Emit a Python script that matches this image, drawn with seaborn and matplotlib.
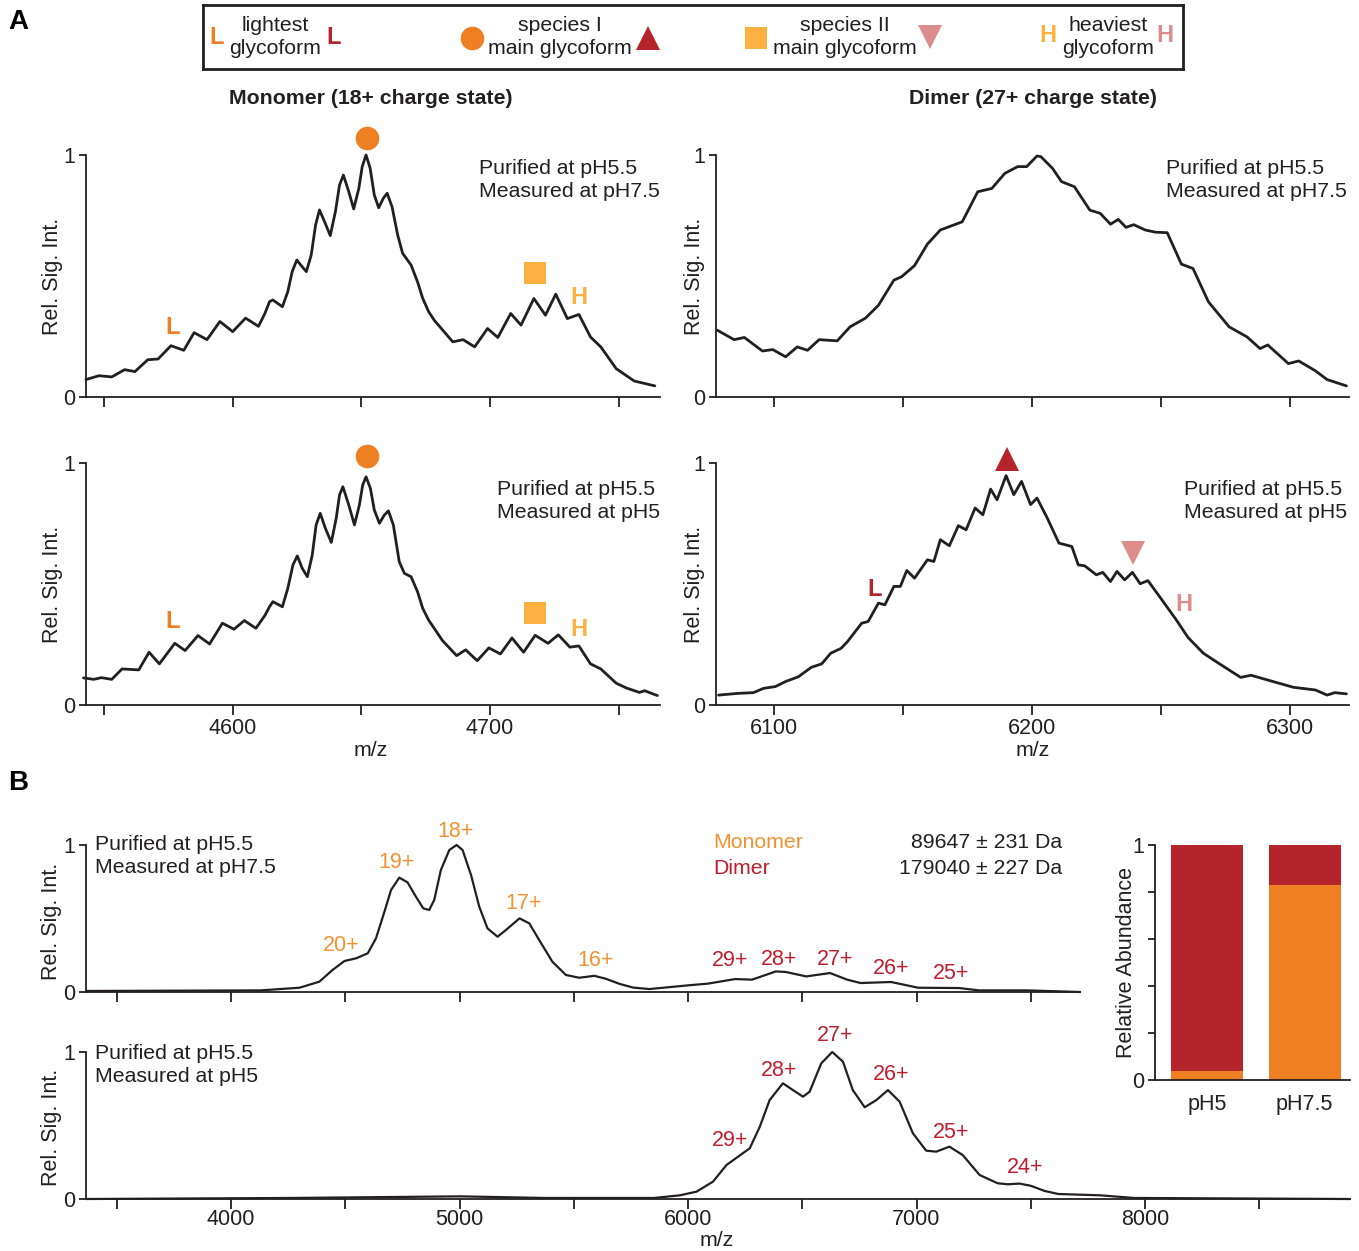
import numpy as np
import pandas as pd
import matplotlib
matplotlib.use("Agg")
import matplotlib.pyplot as plt
import seaborn as sns

sns.set_theme(style="ticks")
plt.rcParams['font.family'] = ['Liberation Sans', 'DejaVu Sans']

# ---------------- data ----------------
mono75_mz = [4543, 4548, 4553, 4558, 4562, 4567, 4571, 4576, 4581, 4585, 4590, 4595, 4600, 4605, 4610,
             4612.5, 4614.3, 4615.6, 4619.3, 4621.4, 4623.1, 4624.9, 4626.6, 4628.6, 4630.5, 4632.2,
             4633.7, 4635.7, 4637.9, 4639.9, 4641.5, 4643.0, 4645.1, 4647.0, 4649.0, 4650.3, 4651.8,
             4653.4, 4655.0, 4656.7, 4658.5, 4660.0, 4661.9, 4664.1, 4666.0, 4669.3, 4671.8, 4673.8,
             4676.1, 4678.3, 4685.5, 4689.5, 4694, 4699, 4703, 4708, 4712, 4717, 4721.5, 4725.5, 4730,
             4734.5, 4739, 4743, 4749, 4756, 4764]
mono75_int = [0.072, 0.088, 0.083, 0.113, 0.105, 0.154, 0.157, 0.212, 0.193, 0.266, 0.237, 0.312, 0.270,
              0.326, 0.292, 0.345, 0.394, 0.401, 0.373, 0.435, 0.518, 0.566, 0.543, 0.518, 0.587, 0.711,
              0.773, 0.724, 0.667, 0.766, 0.876, 0.917, 0.848, 0.777, 0.862, 0.952, 1.0, 0.945, 0.835,
              0.782, 0.821, 0.842, 0.786, 0.669, 0.594, 0.545, 0.476, 0.408, 0.353, 0.317, 0.228, 0.237,
              0.207, 0.283, 0.246, 0.345, 0.297, 0.407, 0.338, 0.425, 0.324, 0.341, 0.248, 0.207, 0.117,
              0.066, 0.046]

mono5_mz = [4542, 4546, 4549, 4553, 4557, 4563.5, 4567.5, 4571.5, 4577.5, 4581.5, 4586.5, 4591, 4596,
            4600.5, 4604.5, 4609, 4612.5, 4614.3, 4615.6, 4619.3, 4621.4, 4623.4, 4625.1, 4627.0, 4629.0,
            4630.9, 4632.4, 4634.0, 4636.0, 4638.3, 4640.2, 4641.5, 4642.8, 4645.1, 4647.3, 4649.2,
            4650.5, 4651.8, 4653.5, 4655.0, 4657.0, 4658.9, 4660.5, 4662.4, 4664.7, 4666.7, 4669.3,
            4671.8, 4673.8, 4676.1, 4681.5, 4687, 4690.5, 4695, 4699.5, 4704, 4708.5, 4713, 4717.5,
            4722.5, 4726.5, 4731, 4734.5, 4739, 4743, 4749, 4753, 4758, 4760, 4765]
mono5_int = [0.112, 0.106, 0.113, 0.106, 0.149, 0.145, 0.218, 0.170, 0.255, 0.225, 0.287, 0.252, 0.338,
             0.313, 0.349, 0.317, 0.370, 0.406, 0.427, 0.406, 0.482, 0.579, 0.616, 0.565, 0.530, 0.620,
             0.744, 0.792, 0.730, 0.672, 0.771, 0.868, 0.902, 0.826, 0.744, 0.826, 0.909, 0.943, 0.895,
             0.806, 0.751, 0.785, 0.802, 0.744, 0.592, 0.544, 0.530, 0.468, 0.400, 0.351, 0.266, 0.204,
             0.228, 0.183, 0.236, 0.211, 0.277, 0.218, 0.288, 0.255, 0.290, 0.239, 0.244, 0.170, 0.149,
             0.090, 0.070, 0.052, 0.059, 0.039]

dimer75_mz = [6078, 6084.5, 6088.5, 6095.5, 6099.5, 6104.5, 6109, 6113, 6117.5, 6124.5, 6129.5, 6135.5,
              6140.5, 6146.5, 6149.5, 6154.5, 6159.5, 6164.5, 6173, 6179, 6184.5, 6189.5, 6194.5, 6198,
              6202, 6203.5, 6208, 6211.5, 6216.5, 6222.5, 6226.5, 6230.5, 6233.5, 6236.5, 6239.5, 6244,
              6248, 6252.5, 6258, 6262.5, 6268.5, 6276.5, 6283.5, 6288.5, 6291.5, 6299.5, 6303.5, 6310,
              6314.5, 6322]
dimer75_int = [0.276, 0.237, 0.246, 0.190, 0.196, 0.166, 0.207, 0.193, 0.237, 0.232, 0.290, 0.326, 0.379,
               0.483, 0.497, 0.543, 0.632, 0.690, 0.724, 0.848, 0.862, 0.924, 0.952, 0.952, 0.996, 0.993,
               0.945, 0.890, 0.869, 0.772, 0.759, 0.714, 0.734, 0.701, 0.712, 0.690, 0.681, 0.679, 0.549,
               0.531, 0.393, 0.290, 0.248, 0.200, 0.215, 0.138, 0.149, 0.108, 0.072, 0.046]

dimer5_mz = [6078.5, 6086, 6092, 6096, 6100.5, 6104.5, 6109.5, 6114.5, 6118.5, 6122, 6126, 6128.5, 6134,
             6136.5, 6140.5, 6143, 6146.5, 6149, 6151.5, 6154.5, 6159.5, 6162, 6164.5, 6168, 6171.5,
             6174.5, 6178, 6181, 6184, 6186.5, 6190, 6193, 6196, 6199.5, 6202, 6206, 6210.5, 6215.5,
             6218, 6220.5, 6225, 6227.5, 6230.5, 6233, 6236, 6239, 6242, 6245, 6250, 6256, 6260.5,
             6266.5, 6272.5, 6281, 6285, 6293.5, 6301.5, 6310, 6314.5, 6317.5, 6322]
dimer5_int = [0.041, 0.048, 0.051, 0.069, 0.076, 0.097, 0.117, 0.156, 0.170, 0.214, 0.234, 0.262, 0.338,
              0.345, 0.421, 0.414, 0.490, 0.490, 0.556, 0.524, 0.600, 0.593, 0.683, 0.658, 0.741, 0.724,
              0.814, 0.786, 0.892, 0.848, 0.948, 0.869, 0.924, 0.828, 0.855, 0.772, 0.669, 0.655, 0.579,
              0.575, 0.538, 0.548, 0.510, 0.552, 0.517, 0.548, 0.501, 0.514, 0.441, 0.352, 0.280, 0.214,
              0.172, 0.114, 0.123, 0.097, 0.073, 0.062, 0.041, 0.051, 0.046]

full75_mz = [3365, 4129, 4299, 4386, 4444, 4496, 4547, 4598, 4634, 4671, 4700, 4736, 4772, 4809, 4841,
             4867, 4889, 4918, 4955, 4987, 5013, 5050, 5086, 5122, 5166, 5203, 5262, 5305, 5348, 5406,
             5465, 5523, 5590, 5640, 5700, 5760, 5830, 5998, 6087, 6206, 6280, 6384, 6428, 6517, 6621,
             6696, 6755, 6888, 7007, 7185, 7274, 7481, 7715]
full75_int = [0.007, 0.011, 0.029, 0.070, 0.150, 0.211, 0.229, 0.263, 0.365, 0.546, 0.694, 0.778, 0.746,
              0.648, 0.569, 0.558, 0.626, 0.830, 0.966, 1.0, 0.966, 0.796, 0.580, 0.433, 0.376, 0.422,
              0.501, 0.467, 0.354, 0.206, 0.116, 0.097, 0.110, 0.090, 0.055, 0.030, 0.020, 0.045, 0.057,
              0.088, 0.084, 0.140, 0.136, 0.106, 0.129, 0.084, 0.061, 0.068, 0.029, 0.027, 0.011, 0.011,
              0.0]

full5_mz = [3365, 4265, 5003, 5371, 5851, 5964, 6037, 6109, 6168, 6219, 6270, 6314, 6357, 6415, 6459,
            6503, 6532, 6583, 6631, 6678, 6721, 6773, 6824, 6875, 6926, 6984, 7042, 7086, 7144, 7202,
            7276, 7355, 7400, 7450, 7500, 7560, 7620, 7805, 7952, 8897]
full5_int = [0.0, 0.007, 0.018, 0.007, 0.007, 0.025, 0.050, 0.118, 0.231, 0.288, 0.345, 0.492, 0.673,
             0.787, 0.741, 0.696, 0.730, 0.923, 1.0, 0.934, 0.741, 0.624, 0.673, 0.741, 0.662, 0.447,
             0.329, 0.322, 0.356, 0.299, 0.163, 0.107, 0.100, 0.105, 0.090, 0.055, 0.034, 0.025, 0.007,
             0.0]

mono_charges = ["20+", "19+", "18+", "17+", "16+"]
mono_charge_mz = [4481, 4726, 4980, 5282, 5597]
mono_charge_y = [0.313, 0.878, 1.095, 0.605, 0.211]
dim75_charges = ["29+", "28+", "27+", "26+", "25+"]
dim75_charge_mz = [6184, 6398, 6643, 6888, 7151]
dim75_charge_y = [0.211, 0.224, 0.224, 0.163, 0.129]
dim5_charges = ["29+", "28+", "27+", "26+", "25+", "24+"]
dim5_charge_mz = [6184, 6398, 6643, 6888, 7151, 7475]
dim5_charge_y = [0.395, 0.871, 1.109, 0.850, 0.449, 0.211]

conditions = ["pH5", "pH7.5"]
monomer_frac = [0.04, 0.83]
dimer_frac = [0.96, 0.17]

# ---------------- style ----------------
ORANGE = "#EE7F22"
LORANGE = "#FBB040"
RED = "#B5242A"
PINK = "#DC8C8A"
MONO_TXT = "#F39130"
DIM_TXT = "#BE1E2D"
INK = "#231F20"
FS = 15.3
TFS = 15.5

W, H = 1359, 1251
fig = plt.figure(figsize=(W / 100, H / 100), dpi=100)


def px_ax(l, r, t, b):
    return fig.add_axes([l / W, 1 - b / H, (r - l) / W, (b - t) / H])


def ftext(x, y, s, **kw):
    kw.setdefault("va", "center")
    kw.setdefault("color", INK)
    fig.text(x / W, 1 - y / H, s, **kw)


def style(ax, xlim, xticks, xlabels, ylab_x, ylab_y=0.5, xpad=3):
    ax.set_xlim(xlim)
    ax.set_ylim(0, 1)
    ax.set_xticks(xticks)
    ax.set_xticklabels(xlabels)
    ax.set_yticks([0, 1])
    ax.set_yticklabels(["0", "1"])
    for s in ["top", "right"]:
        ax.spines[s].set_visible(False)
    for s in ["left", "bottom"]:
        ax.spines[s].set_linewidth(1.3)
        ax.spines[s].set_color(INK)
    ax.tick_params(axis="x", length=7, width=1.3, labelsize=TFS, pad=xpad, colors=INK)
    ax.tick_params(axis="y", length=5, width=1.3, labelsize=TFS, pad=3, colors=INK)
    ax.set_facecolor("none")
    ax.set_xlabel("")
    ax.set_ylabel("Rel. Sig. Int.", fontsize=TFS, color=INK)
    ax.yaxis.set_label_coords(ylab_x, ylab_y)


def trace(ax, mz, inten, lw=2.0):
    df = pd.DataFrame({"mz": mz, "int": inten})
    sns.lineplot(data=df, x="mz", y="int", ax=ax, color=INK, lw=lw,
                 estimator=None, sort=False, legend=False)
    for ln in ax.lines:
        ln.set_clip_on(False)
        ln.set_solid_joinstyle("round")
        ln.set_solid_capstyle("round")


# ---------------- panel A ----------------
ax_tl = px_ax(86, 660, 155, 397)
ax_tr = px_ax(716, 1349, 155, 397)
ax_bl = px_ax(86, 660, 463, 705)
ax_br = px_ax(716, 1349, 463, 705)

trace(ax_tl, mono75_mz, mono75_int)
trace(ax_bl, mono5_mz, mono5_int)
trace(ax_tr, dimer75_mz, dimer75_int)
trace(ax_br, dimer5_mz, dimer5_int)

mono_ticks = [4550, 4600, 4650, 4700, 4750]
dim_ticks = [6100, 6150, 6200, 6250, 6300]
style(ax_tl, (4543, 4766), mono_ticks, [""] * 5, -0.040)
style(ax_bl, (4543, 4766), mono_ticks, ["", "4600", "", "4700", ""], -0.040, xpad=2)
style(ax_tr, (6077.5, 6323), dim_ticks, [""] * 5, -0.017)
style(ax_br, (6077.5, 6323), dim_ticks, ["6100", "", "6200", "", "6300"], -0.017, xpad=2)

# markers
mk = dict(ls="none", clip_on=False, zorder=10, mew=0)
ax_tl.plot([4652], [1.07], marker="o", ms=17, color=ORANGE, **mk)
ax_tl.plot([4717.5], [0.512], marker="s", ms=16, color=LORANGE, **mk)
ax_bl.plot([4652], [1.029], marker="o", ms=17, color=ORANGE, **mk)
ax_bl.plot([4717.5], [0.380], marker="s", ms=16, color=LORANGE, **mk)
ax_br.plot([6190.3], [1.017], marker="^", ms=17, color=RED, **mk)
ax_br.plot([6239.2], [0.628], marker="v", ms=17, color=PINK, **mk)

lk = dict(ha="center", va="center", fontsize=17, fontweight="bold")
ax_tl.text(4576.7, 0.289, "L", color=ORANGE, **lk)
ax_tl.text(4734.5, 0.413, "H", color=LORANGE, **lk)
ax_bl.text(4576.7, 0.343, "L", color=ORANGE, **lk)
ax_bl.text(4734.5, 0.314, "H", color=LORANGE, **lk)
ax_br.text(6139, 0.479, "L", color=RED, **lk)
ax_br.text(6259, 0.417, "H", color=PINK, **lk)

pt = dict(ha="left", fontsize=FS, linespacing=1.3)
ftext(479, 180, "Purified at pH5.5\nMeasured at pH7.5", **pt)
ftext(497, 501, "Purified at pH5.5\nMeasured at pH5", **pt)
ftext(1166, 180, "Purified at pH5.5\nMeasured at pH7.5", **pt)
ftext(1184, 501, "Purified at pH5.5\nMeasured at pH5", **pt)

ftext(371, 98, "Monomer (18+ charge state)", ha="center", fontsize=FS, fontweight="bold")
ftext(1033, 98, "Dimer (27+ charge state)", ha="center", fontsize=FS, fontweight="bold")
ftext(371, 750, "m/z", ha="center", fontsize=FS)
ftext(1033, 750, "m/z", ha="center", fontsize=FS)

ftext(18, 22, "A", ha="center", fontsize=20, fontweight="bold", color="black")
ftext(18, 783, "B", ha="center", fontsize=20, fontweight="bold", color="black")

# ---------------- legend ----------------
ax_leg = px_ax(203, 1183, 5, 69)
ax_leg.set_xlim(203, 1183)
ax_leg.set_ylim(69, 5)
ax_leg.set_xticks([])
ax_leg.set_yticks([])
ax_leg.set_facecolor("white")
for s in ax_leg.spines.values():
    s.set_linewidth(2)
    s.set_color(INK)
    s.set_visible(True)
lt = dict(ha="center", va="center", fontsize=FS, color=INK, linespacing=1.3)
ax_leg.text(217, 37, "L", color=ORANGE, **lk)
ax_leg.text(275, 37, "lightest\nglycoform", **lt)
ax_leg.text(334, 37, "L", color=RED, **lk)
ax_leg.plot([472], [38], marker="o", ms=17, color=ORANGE, **mk)
ax_leg.text(560, 37, "species I\nmain glycoform", **lt)
ax_leg.plot([648], [38], marker="^", ms=17, color=RED, **mk)
ax_leg.plot([756], [38], marker="s", ms=16, color=LORANGE, **mk)
ax_leg.text(845, 37, "species II\nmain glycoform", **lt)
ax_leg.plot([930], [37], marker="v", ms=17, color=PINK, **mk)
ax_leg.text(1048, 36, "H", color=LORANGE, **lk)
ax_leg.text(1108, 37, "heaviest\nglycoform", **lt)
ax_leg.text(1165, 36, "H", color=PINK, **lk)

# ---------------- panel B ----------------
ax_b1 = px_ax(86, 1080, 845, 992)
ax_b2 = px_ax(86, 1350, 1052, 1199)
trace(ax_b1, full75_mz, full75_int, lw=1.6)
trace(ax_b2, full5_mz, full5_int, lw=1.6)

b1_ticks = list(range(3500, 7501, 500))
b2_ticks = list(range(3500, 8501, 500))
style(ax_b1, (3365, 7715), b1_ticks, [""] * len(b1_ticks), -0.024, 0.48)
style(ax_b2, (3365, 8897), b2_ticks,
      [str(t) if t % 1000 == 0 else "" for t in b2_ticks], -0.019, 0.49, xpad=0)
ftext(717, 1241, "m/z", ha="center", fontsize=FS)

ct = dict(ha="center", va="center", fontsize=TFS)
for s, x, y in zip(mono_charges, mono_charge_mz, mono_charge_y):
    ax_b1.text(x, y, s, color=MONO_TXT, clip_on=False, **ct)
for s, x, y in zip(dim75_charges, dim75_charge_mz, dim75_charge_y):
    ax_b1.text(x, y, s, color=DIM_TXT, clip_on=False, **ct)
for s, x, y in zip(dim5_charges, dim5_charge_mz, dim5_charge_y):
    ax_b2.text(x, y, s, color=DIM_TXT, clip_on=False, **ct)

ftext(95, 856, "Purified at pH5.5\nMeasured at pH7.5", **pt)
ftext(95, 1065, "Purified at pH5.5\nMeasured at pH5", **pt)
ftext(713, 843, "Monomer", ha="left", fontsize=FS, color=MONO_TXT)
ftext(713, 869, "Dimer", ha="left", fontsize=FS, color=DIM_TXT)
ftext(1062, 843, "89647 ± 231 Da", ha="right", fontsize=FS)
ftext(1062, 869, "179040 ± 227 Da", ha="right", fontsize=FS)

# ---------------- bar chart ----------------
ax_bar = px_ax(1155, 1350, 845, 1080)
totals = [m + d for m, d in zip(monomer_frac, dimer_frac)]
bar_df = pd.DataFrame({"cond": conditions, "total": totals, "mono": monomer_frac})
sns.barplot(data=bar_df, x="cond", y="total", color=RED, saturation=1, width=0.74,
            ax=ax_bar, order=conditions)
sns.barplot(data=bar_df, x="cond", y="mono", color=ORANGE, saturation=1, width=0.74,
            ax=ax_bar, order=conditions)
for p in ax_bar.patches:
    p.set_linewidth(0)
ax_bar.set_xlim(-0.535, 1.465)
ax_bar.set_ylim(0, 1)
ax_bar.set_yticks([0, 0.2, 0.4, 0.6, 0.8, 1.0])
ax_bar.set_yticklabels(["0", "", "", "", "", "1"])
for s in ["top", "right"]:
    ax_bar.spines[s].set_visible(False)
for s in ["left", "bottom"]:
    ax_bar.spines[s].set_linewidth(1.3)
    ax_bar.spines[s].set_color(INK)
ax_bar.tick_params(axis="x", length=0, labelsize=TFS, pad=10, colors=INK)
ax_bar.tick_params(axis="y", length=5, width=1.3, labelsize=TFS, pad=3, colors=INK)
ax_bar.set_xlabel("")
ax_bar.set_ylabel("Relative Abundance", fontsize=TFS, color=INK)
ax_bar.yaxis.set_label_coords(-0.092, 0.5)
ax_bar.set_facecolor("none")

fig.savefig("out.png", dpi=100, facecolor="white")
